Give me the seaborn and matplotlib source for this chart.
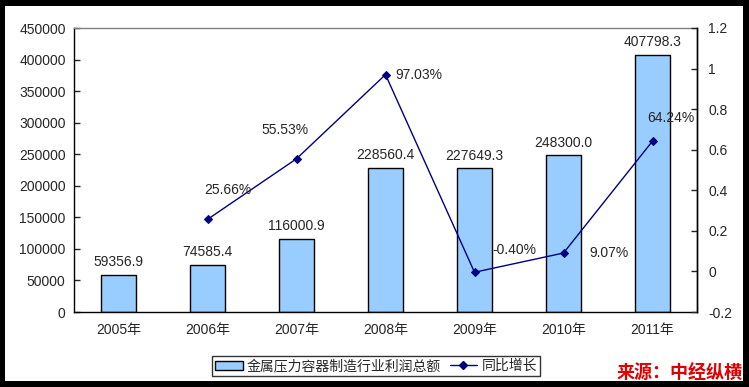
import numpy as np
import pandas as pd
import matplotlib
matplotlib.use('Agg')
import matplotlib.pyplot as plt
from matplotlib.patches import Rectangle, Patch
from matplotlib.lines import Line2D
from matplotlib.ticker import FuncFormatter, MultipleLocator, FixedLocator
import seaborn as sns

# data
years = ['2005年', '2006年', '2007年', '2008年', '2009年', '2010年', '2011年']
profit = [59356.9, 74585.4, 116000.9, 228560.4, 227649.3, 248300.0, 407798.3]
growth_years = ['2006年', '2007年', '2008年', '2009年', '2010年', '2011年']
growth = [0.2566, 0.5553, 0.9703, -0.0040, 0.0907, 0.6424]
growth_labels = ['25.66%', '55.53%', '97.03%', '-0.40%', '9.07%', '64.24%']

bar_name = '金属压力容器制造行业利润总额'
line_name = '同比增长'

sns.set_style('white')
plt.rcParams['font.family'] = ['Liberation Sans', 'Noto Sans CJK SC']
plt.rcParams['font.size'] = 10

W, H = 749, 387
fig = plt.figure(figsize=(W / 100, H / 100), dpi=100)
fig.patch.set_facecolor('black')
# white inner panel (black frame around the picture)
fig.add_artist(Rectangle((5 / W, 6 / H), (743 - 5) / W, (381 - 6) / H,
                         transform=fig.transFigure, facecolor='white',
                         edgecolor='none', zorder=-1))

ax = fig.add_axes([74 / W, 1 - 312 / H, (697 - 74) / W, (312 - 28) / H])

df = pd.DataFrame({'year': years, 'profit': profit})
sns.barplot(data=df, x='year', y='profit', order=years, color='#99CCFF',
            saturation=1, width=0.4, edgecolor='black', linewidth=1, ax=ax)
ax.bar_label(ax.containers[0], fmt='%.1f', padding=4, fontsize=10)

ax.set_xlim(-0.5, len(years) - 0.5)
ax.set_ylim(0, 450000)
ax.yaxis.set_major_locator(MultipleLocator(50000))
ax.yaxis.set_major_formatter(FuncFormatter(lambda v, p: f'{int(v)}'))
ax.set_xlabel('')
ax.set_ylabel('')
ax.tick_params(axis='y', direction='in', length=4, width=1, labelsize=10, pad=6)
ax.tick_params(axis='x', which='major', length=0, labelsize=10, pad=8)
ax.xaxis.set_minor_locator(FixedLocator(np.arange(-0.5, len(years), 1.0)))
ax.tick_params(axis='x', which='minor', direction='in', length=4, width=1)
for s in ['left', 'bottom', 'right']:
    ax.spines[s].set_color('black')
    ax.spines[s].set_linewidth(1)
ax.spines['top'].set_color('#808080')
ax.spines['top'].set_linewidth(1)

ax2 = ax.twinx()
gx = [years.index(y) for y in growth_years]
gdf = pd.DataFrame({'x': gx, 'growth': growth})
sns.lineplot(data=gdf, x='x', y='growth', ax=ax2, color='#000080', linewidth=1,
             marker='D', markersize=4.5, markeredgecolor='#000080')
ax2.set_ylim(-0.2, 1.2)
ax2.yaxis.set_major_locator(MultipleLocator(0.2))
ax2.yaxis.set_major_formatter(FuncFormatter(lambda v, p: f'{round(v, 1):g}'))
ax2.set_ylabel('')
ax2.set_xlabel('')
ax2.tick_params(axis='y', direction='in', length=4, width=1, labelsize=10, pad=8)
for s in ['left', 'top', 'bottom']:
    ax2.spines[s].set_visible(False)
ax2.spines['right'].set_color('black')
ax2.spines['right'].set_linewidth(1)

# label offsets in pixels (dx, dy up)
offsets = [(20, 29), (-11, 29), (33, 0), (40, 22), (45, 0), (18, 23)]
for xi, g, lab, (dx, dy) in zip(gx, growth, growth_labels, offsets):
    ax2.annotate(lab, (xi, g), xytext=(dx * 0.72, dy * 0.72),
                 textcoords='offset points', ha='center', va='center', fontsize=10)

handles = [Patch(facecolor='#99CCFF', edgecolor='black', linewidth=1),
           Line2D([], [], color='#000080', linewidth=1, marker='D', markersize=4)]
leg = fig.legend(handles, [bar_name, line_name], loc='center', ncol=2,
                 bbox_to_anchor=(376 / W, 1 - 366 / H), frameon=True, fancybox=False,
                 edgecolor='black', fontsize=10, handlelength=2.0, handletextpad=0.3,
                 columnspacing=0.6, borderpad=0.25, borderaxespad=0, handleheight=0.6)
leg.get_frame().set_linewidth(1)

fig.text(743 / W, 1 - 373 / H, '来源：中经纵横', ha='right', va='center',
         fontsize=13, fontweight='bold', color='#E00000',
         family=['Noto Sans CJK SC'], zorder=5)

fig.savefig('out.png', dpi=100, facecolor=fig.get_facecolor())
